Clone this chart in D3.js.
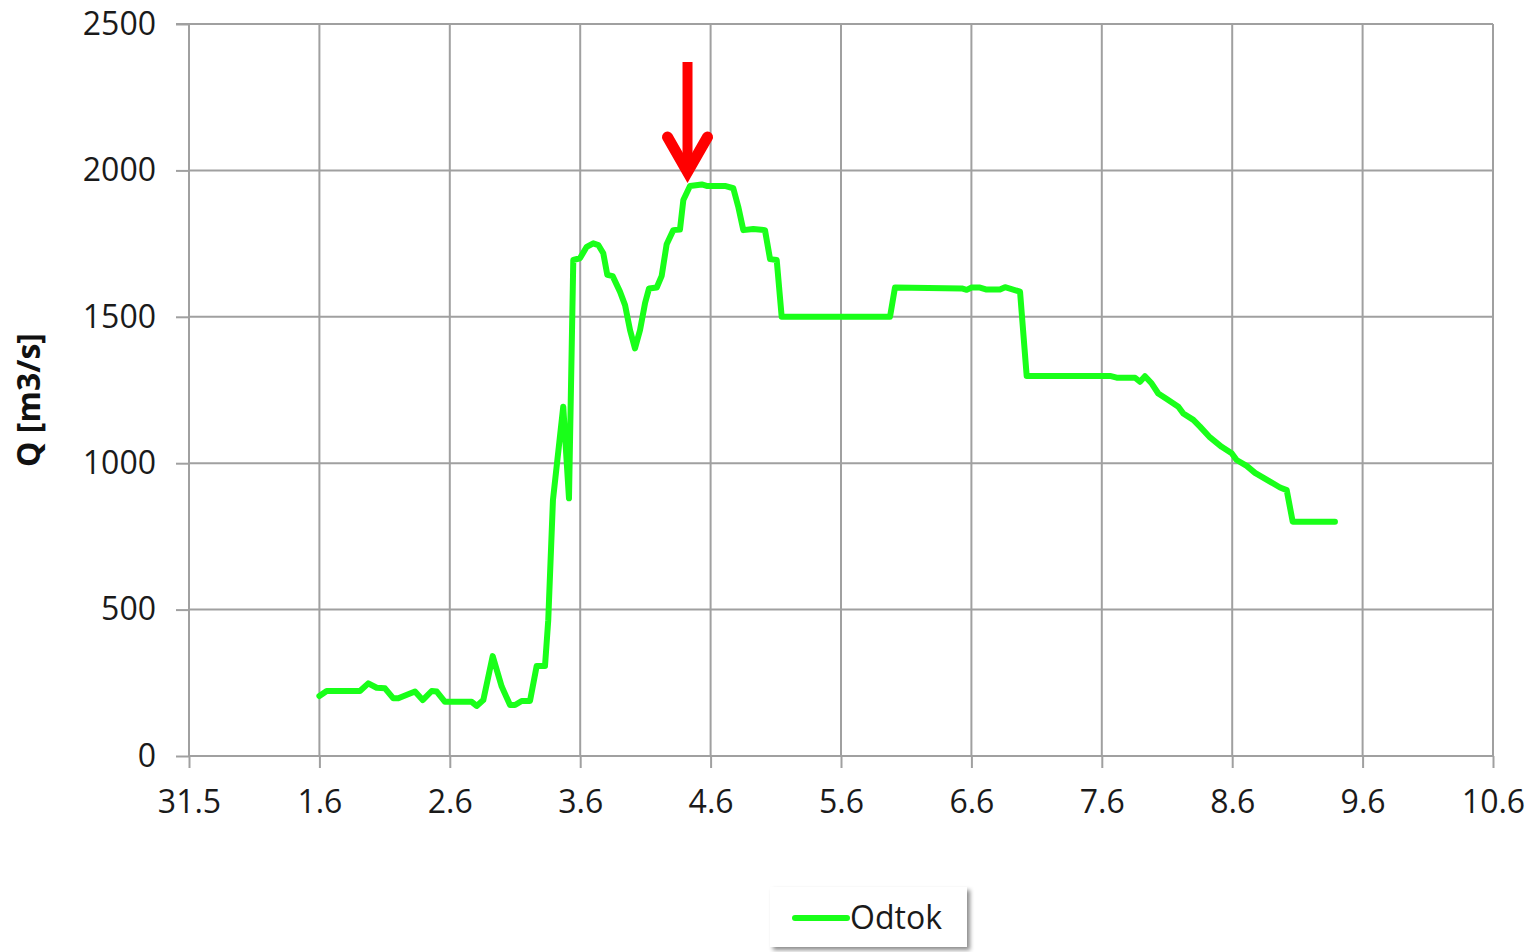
<!DOCTYPE html>
<html><head><meta charset="utf-8">
<script src="https://cdn.jsdelivr.net/npm/d3@7"></script>
<style>body{margin:0;background:#fff;} svg{display:block;}</style>
</head><body>
<script>
// x tick labels (dates, one per day)
const dayLabels = ["31.5","1.6","2.6","3.6","4.6","5.6","6.6","7.6","8.6","9.6","10.6"];
const yTicks = [0,500,1000,1500,2000,2500];
// time in days after 31.5 00:00
const days = [1.00,1.056,1.311,1.375,1.439,1.503,1.567,1.605,1.733,1.792,1.861,1.900,1.963,2.168,2.206,2.257,2.329,2.398,2.462,2.500,2.551,2.615,2.666,2.730,2.755,2.761,2.791,2.870,2.914,2.947,2.998,3.050,3.100,3.139,3.177,3.208,3.249,3.305,3.344,3.382,3.420,3.459,3.497,3.528,3.587,3.625,3.663,3.714,3.765,3.791,3.842,3.932,3.970,4.110,4.174,4.212,4.251,4.327,4.417,4.456,4.507,4.545,5.376,5.414,5.926,5.964,6.002,6.066,6.117,6.219,6.258,6.373,6.424,7.063,7.114,7.255,7.293,7.331,7.383,7.433,7.498,7.587,7.625,7.702,7.753,7.830,7.919,7.996,8.034,8.111,8.175,8.290,8.367,8.418,8.464,8.788];
const odtok = [205,222,222,248,233,231,197,197,220,191,222,220,185,185,171,191,341,237,174,174,188,188,307,307,464,533,874,1193,880,1694,1700,1739,1751,1745,1717,1643,1639,1586,1540,1455,1392,1455,1546,1597,1600,1640,1748,1796,1798,1899,1947,1952,1947,1947,1939,1876,1796,1800,1796,1697,1694,1500,1500,1600,1597,1592,1600,1600,1593,1593,1601,1586,1298,1298,1292,1292,1278,1297,1272,1238,1219,1193,1170,1148,1125,1088,1056,1034,1011,991,967,937,917,908,800,800];
const seriesName = "Odtok";
const yTitle = "Q [m3/s]";
// peak marker (arrow tip)
const arrowDay = 3.823, arrowValue = 1974;

const W = 1531, H = 952;
const m = {l:189, r:1493, t:24, b:756};
const svg = d3.select("body").append("svg").attr("width",W).attr("height",H);
const x = d3.scaleLinear().domain([0,10]).range([m.l,m.r]);
const y = d3.scaleLinear().domain([0,2500]).range([m.b,m.t]);
const font = "'Open Sans', sans-serif";
const grid = "#a0a0a0";
const green = "#19ff19";

// gridlines
svg.append("g").selectAll("line.h").data(yTicks.slice(1)).join("line")
  .attr("x1",m.l).attr("x2",m.r).attr("y1",d=>y(d)).attr("y2",d=>y(d))
  .attr("stroke",grid).attr("stroke-width",2);
svg.append("g").selectAll("line.v").data(d3.range(1,11)).join("line")
  .attr("x1",d=>x(d)).attr("x2",d=>x(d)).attr("y1",m.t).attr("y2",m.b)
  .attr("stroke",grid).attr("stroke-width",2);

// y axis
const ya = svg.append("g").attr("transform",`translate(${m.l},0)`)
  .call(d3.axisLeft(y).tickValues(yTicks).tickFormat(d3.format("d")).tickSize(13).tickPadding(20));
ya.select(".domain").attr("stroke",grid).attr("stroke-width",2).attr("d",`M-13,${m.t}H0V${m.b}`);
ya.selectAll(".tick line").attr("stroke",grid).attr("stroke-width",2);
ya.selectAll("text").attr("font-family",font).attr("font-size",32).attr("fill","#1a1a1a");

// x axis
const xa = svg.append("g").attr("transform",`translate(0,${m.b})`)
  .call(d3.axisBottom(x).tickValues(d3.range(0,11)).tickFormat(i=>dayLabels[i]).tickSize(12).tickPadding(22));
xa.select(".domain").attr("stroke",grid).attr("stroke-width",2).attr("d",`M${m.l},0H${m.r}`);
xa.selectAll(".tick line").attr("stroke",grid).attr("stroke-width",2);
xa.selectAll("text").attr("font-family",font).attr("font-size",32).attr("fill","#1a1a1a");

// y title
svg.append("text").attr("transform",`translate(40,${(m.t+m.b)/2 + 10}) rotate(-90)`)
  .attr("text-anchor","middle").attr("font-family",font).attr("font-weight","bold")
  .attr("font-size",32).attr("fill","#111").text(yTitle);

// line
const pts = days.map((d,i)=>[d,odtok[i]]);
svg.append("path").datum(pts)
  .attr("d",d3.line().x(d=>x(d[0])).y(d=>y(d[1])))
  .attr("fill","none").attr("stroke",green).attr("stroke-width",6)
  .attr("stroke-linejoin","round").attr("stroke-linecap","round");

// red arrow
const ax = x(arrowDay), ay = y(arrowValue);
svg.append("path")
  .attr("d",`M${ax},${ay-116}V${ay-6}`)
  .attr("stroke","#ff0000").attr("stroke-width",10).attr("fill","none");
svg.append("path")
  .attr("d",`M${ax-20},${ay-41}L${ax},${ay-6}L${ax+20},${ay-41}`)
  .attr("stroke","#ff0000").attr("stroke-width",11).attr("fill","none")
  .attr("stroke-linecap","round").attr("stroke-linejoin","miter");

// legend
const defs = svg.append("defs");
const f = defs.append("filter").attr("id","sh").attr("x","-10%").attr("y","-20%").attr("width","130%").attr("height","150%");
f.append("feDropShadow").attr("dx",3).attr("dy",3).attr("stdDeviation",2).attr("flood-color","#000").attr("flood-opacity",0.45);
const lg = svg.append("g").attr("transform","translate(770,887)");
lg.append("rect").attr("width",197).attr("height",60).attr("fill","#fff").attr("filter","url(#sh)");
lg.append("line").attr("x1",25).attr("x2",77).attr("y1",31).attr("y2",31)
  .attr("stroke",green).attr("stroke-width",6).attr("stroke-linecap","round");
lg.append("text").attr("x",80).attr("y",42).attr("font-family",font).attr("font-size",32)
  .attr("fill","#1a1a1a").text(seriesName);
</script>
</body></html>
